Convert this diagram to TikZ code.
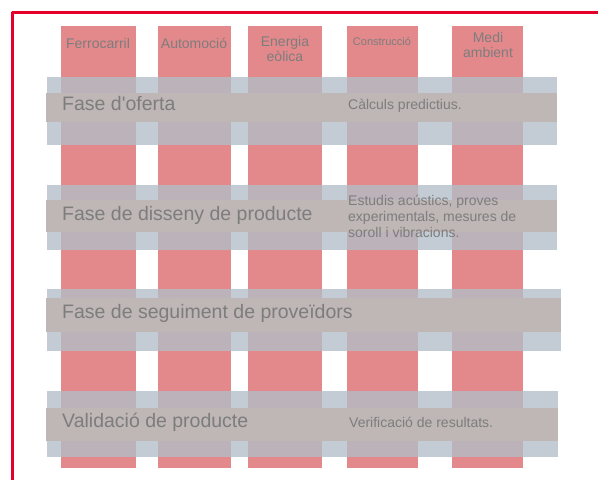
\documentclass[tikz,border=0pt]{standalone}
\usepackage{fontspec}
\setmainfont{Liberation Sans}[Ligatures=TeXOff]
\definecolor{framered}{HTML}{E4002B}
\definecolor{colred}{HTML}{E3898B}
\definecolor{bandlight}{RGB}{178,190,200}
\definecolor{banddark}{RGB}{191,182,182}
\definecolor{txtgray}{RGB}{125,125,125}
\begin{document}
\begin{tikzpicture}[x=1pt,y=-1pt, line join=round,
		column/.style={fill=colred},
		halo/.style={fill=bandlight,fill opacity=0.78},
		band/.style={fill=banddark},
		phase/.style={anchor=base west,inner sep=0pt,text=txtgray,font=\fontsize{19.5}{22}\selectfont},
		note/.style={anchor=base west,inner sep=0pt,text=txtgray,font=\fontsize{14}{16}\selectfont,align=left},
		head/.style={anchor=base,inner sep=0pt,text=txtgray,font=\fontsize{14}{15}\selectfont,align=center}]
			\useasboundingbox (0,0) rectangle (598,480);
			\draw[framered,line width=2.5pt] (12.3,480) -- (12.3,12.3) -- (598,12.3);
			% columns
			\foreach \xa/\xb in {61/136,158/231,248/322,347/418,452/523}
				\fill[column] (\xa,26) rectangle (\xb,468);
			% phase bands
			\foreach \ya/\yb/\yc/\yd/\xr in {77/145/93/122/557,185/250/200/232/557,289/351/298/332/561,391/457/408/441/558}{
				\fill[halo] (47,\ya) rectangle (\xr,\yb);
				\fill[band] (46,\yc) rectangle (\xr,\yd);
			}
			% labels (multi-line nodes sit on their last line)
			\node[head] (ferro) at (98,48) {Ferrocarril};
			\node[head] (auto) at (194,48) {Automoció};
			\node[head] (eolica) at (285,61) {Energia\\eòlica};
			\node[head,font=\fontsize{11}{13}\selectfont] (constr) at (382,45) {Construcció};
			\node[head] (medi) at (488,57) {Medi\\ambient};
			\node[phase] (oferta) at (62,110) {Fase d'oferta};
			\node[note] (calculs) at (348,109) {Càlculs predictius.};
			\node[phase] (disseny) at (62,220) {Fase de disseny de producte};
			\node[note] (estudis) at (348,237) {Estudis acústics, proves\\experimentals, mesures de\\soroll i vibracions.};
			\node[phase] (proveidors) at (62,318) {Fase de seguiment de proveïdors};
			\node[phase] (validacio) at (62,427) {Validació de producte};
			\node[note] (verif) at (349,427) {Verificació de resultats.};
		\end{tikzpicture}
\end{document}
